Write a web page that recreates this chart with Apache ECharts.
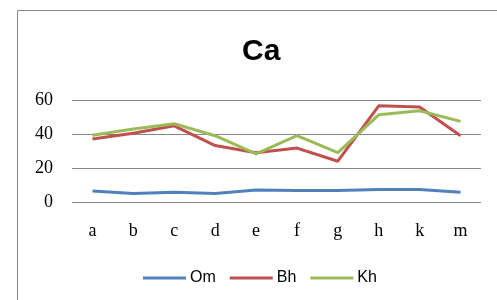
<!DOCTYPE html>
<html>
<head>
<meta charset="utf-8">
<script src="https://cdn.jsdelivr.net/npm/echarts@6/dist/echarts.min.js"></script>
<style>
  html, body { margin: 0; padding: 0; background: #fff; }
  #chart { width: 497px; height: 300px; }
</style>
</head>
<body>
<div id="chart"></div>
<script>
// data
const categories = ["a", "b", "c", "d", "e", "f", "g", "h", "k", "m"];
const omValues = [6.5, 5, 5.7, 5, 7, 6.7, 6.7, 7.3, 7.3, 5.7];
const bhValues = [37, 40.5, 44.8, 33.2, 29, 31.7, 24, 56.6, 55.9, 39];
const khValues = [39.3, 43, 46, 39, 28.3, 39.1, 29, 51.3, 53.7, 47.4];
const seriesNames = ["Om", "Bh", "Kh"];
const colors = ["#4F81BD", "#C0504D", "#9BBB59"];

let chart = echarts.init(document.getElementById("chart"));

function lineSeries(name, data, color) {
  return {
    name: name,
    type: "line",
    data: data,
    symbol: "none",
    lineStyle: { color: color, width: 3 },
    itemStyle: { color: color },
  };
}

let option = {
  animation: false,
  title: {
    text: "Ca",
    left: 237,
    top: 32,
    textStyle: { fontFamily: "Liberation Sans", fontWeight: "bold", fontSize: 30, color: "#000" },
  },
  legend: {
    data: seriesNames,
    top: 265,
    left: 138,
    icon: "rect",
    itemWidth: 43,
    itemHeight: 3,
    itemGap: 14,
    textStyle: { fontFamily: "Liberation Sans", fontSize: 16, color: "#000", padding: [0, 0, 0, -1] },
  },
  // the outer frame, cut off on the right and bottom
  graphic: [{
    type: "rect",
    shape: { x: 17.5, y: 10.5, width: 600, height: 400 },
    style: { fill: "none", stroke: "#888", lineWidth: 1 },
  }],
  grid: { left: 72, right: 16, top: 100, height: 102 },
  xAxis: {
    type: "category",
    data: categories,
    boundaryGap: true,
    axisLine: { show: false },
    axisTick: { show: false },
    axisLabel: { margin: 20, fontFamily: "Liberation Serif", fontSize: 18, color: "#000" },
  },
  yAxis: {
    type: "value",
    min: 0,
    max: 60,
    interval: 20,
    axisLine: { show: false },
    axisTick: { show: false },
    splitLine: { lineStyle: { color: "#868686", width: 1 } },
    axisLabel: { margin: 19, fontFamily: "Liberation Serif", fontSize: 18, color: "#000" },
  },
  series: [
    lineSeries("Om", omValues, colors[0]),
    lineSeries("Bh", bhValues, colors[1]),
    lineSeries("Kh", khValues, colors[2]),
  ],
};
chart.setOption(option);
</script>
</body>
</html>
